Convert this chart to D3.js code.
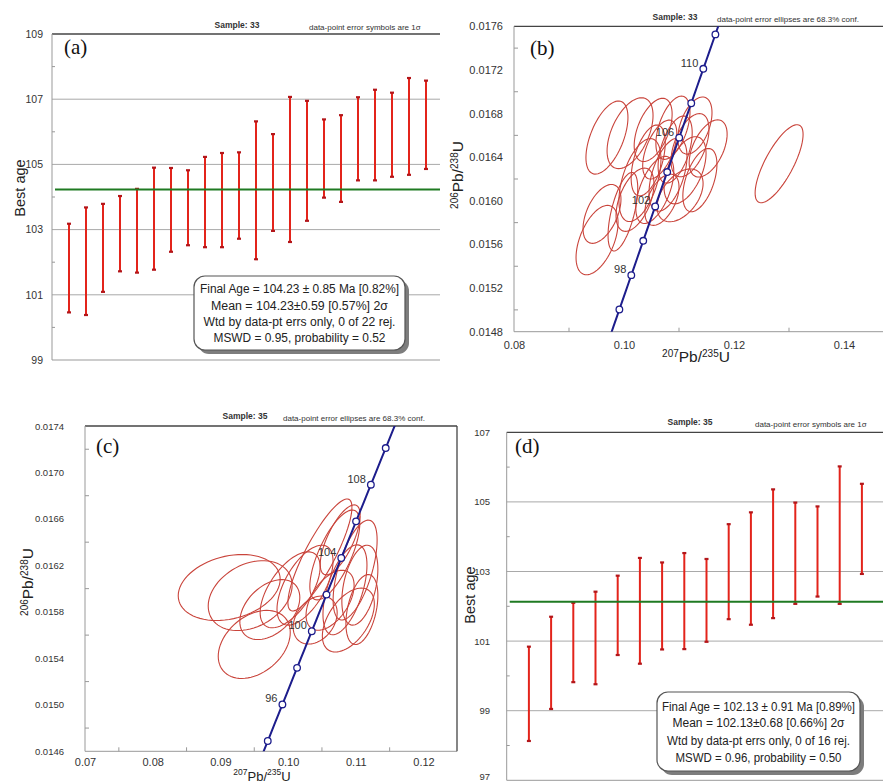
<!DOCTYPE html>
<html>
<head>
<meta charset="utf-8">
<script src="https://cdn.jsdelivr.net/npm/d3@7"></script>
<style>
  body { margin: 0; background: #fff; }
  svg { display: block; font-family: "Liberation Sans", Arial, sans-serif; }
</style>
</head>
<body>
<div id="fig"></div>
<script>
// ---- data ----
// (a) sample 33, 1 sigma age bars (Ma)
const ageA_top = [103.18, 103.68, 103.79, 104.03, 104.25, 104.90, 104.89, 104.82, 105.23, 105.35, 105.37,
                  106.32, 105.93, 107.07, 106.95, 106.38, 106.51, 107.06, 107.29, 107.20, 107.65, 107.57];
const ageA_bot = [100.46, 100.38, 101.09, 101.72, 101.68, 101.77, 102.32, 102.52, 102.46, 102.46, 102.72,
                  102.09, 102.96, 102.62, 103.27, 103.98, 103.85, 104.51, 104.51, 104.62, 104.68, 104.86];
const meanA = 104.23;
const ticksA = [99, 101, 103, 105, 107, 109];
const minorA = [100, 102, 104, 106, 108];
const boxA = ["Final Age = 104.23 \u00b1 0.85 Ma [0.82%]",
              "Mean = 104.23\u00b10.59  [0.57%]  2\u03c3",
              "Wtd by data-pt errs only, 0 of 22 rej.",
              "MSWD = 0.95, probability = 0.52"];

// (d) sample 35
const ageD_top = [100.84, 101.70, 102.10, 102.42, 102.88, 103.39, 103.26, 103.53, 103.36, 104.36, 104.70,
                  105.36, 104.98, 104.87, 106.02, 105.52];
const ageD_bot = [98.13, 99.05, 99.82, 99.76, 100.60, 100.35, 100.76, 100.77, 100.98, 101.63, 101.47,
                  101.66, 102.07, 102.28, 102.07, 102.93];
const meanD = 102.13;
const ticksD = [97, 99, 101, 103, 105, 107];
const minorD = [98, 100, 102, 104, 106];
const boxD = ["Final Age = 102.13 \u00b1 0.91 Ma [0.89%]",
              "Mean = 102.13\u00b10.68  [0.66%]  2\u03c3",
              "Wtd by data-pt errs only, 0 of 16 rej.",
              "MSWD = 0.96, probability = 0.50"];

// (b) sample 33 error ellipses: 207Pb/235U, 206Pb/238U, half extents, correlation
const ellB_x   = [0.1282, 0.0969, 0.1011, 0.1053, 0.1089, 0.1129, 0.1153, 0.0951, 0.0960, 0.0998, 0.1029,
                  0.1056, 0.1080, 0.1111, 0.1138, 0.1044, 0.1069, 0.1102, 0.1020, 0.1093, 0.1120, 0.1065];
const ellB_y   = [0.01634, 0.01658, 0.01662, 0.01665, 0.01667, 0.01669, 0.01648, 0.01564, 0.01588, 0.01590, 0.01619,
                  0.01610, 0.01624, 0.01628, 0.01619, 0.01637, 0.01601, 0.01605, 0.01601, 0.01647, 0.01651, 0.01647];
const ellB_ex  = [0.00436, 0.00382, 0.00418, 0.00345, 0.00310, 0.00310, 0.00345, 0.00382, 0.00345, 0.00270, 0.00382,
                  0.00345, 0.00345, 0.00382, 0.00310, 0.00310, 0.00310, 0.00418, 0.00345, 0.00310, 0.00345, 0.00310];
const ellB_ey  = [0.000358, 0.000335, 0.000325, 0.000290, 0.000290, 0.000262, 0.000262, 0.000318, 0.000270, 0.000360, 0.000380,
                  0.000308, 0.000335, 0.000308, 0.000290, 0.000325, 0.000235, 0.000242, 0.000290, 0.000308, 0.000290, 0.000270];
const ellB_rho = [0.75, 0.55, 0.50, 0.50, 0.50, 0.45, 0.50, 0.50, 0.50, 0.60, 0.50,
                  0.55, 0.50, 0.50, 0.50, 0.50, 0.50, 0.45, 0.50, 0.50, 0.50, 0.55];
const ticksBx = [0.08, 0.10, 0.12, 0.14];
const minorBx = [0.09, 0.11, 0.13, 0.15];
const ticksBy = [0.0148, 0.0152, 0.0156, 0.0160, 0.0164, 0.0168, 0.0172, 0.0176];
const minorBy = [0.0150, 0.0154, 0.0158, 0.0162, 0.0166, 0.0170, 0.0174];
const concB_ages = [94, 96, 98, 100, 102, 104, 106, 108, 110, 112];
const concB_labels = [98, 102, 106, 110];

// (c) sample 35 error ellipses
const ellC_x   = [0.0913, 0.0944, 0.0950, 0.0973, 0.1003, 0.1047, 0.1025, 0.1069, 0.1084, 0.1099, 0.1106,
                  0.1062, 0.1089, 0.1109, 0.1040, 0.1077];
const ellC_y   = [0.01601, 0.01594, 0.01552, 0.01582, 0.01599, 0.01629, 0.01603, 0.01629, 0.01599, 0.01616, 0.01603,
                  0.01590, 0.01573, 0.01582, 0.01573, 0.01642];
const ellC_ex  = [0.00753, 0.00620, 0.00532, 0.00443, 0.00443, 0.00473, 0.00414, 0.00369, 0.00325, 0.00325, 0.00266,
                  0.00355, 0.00384, 0.00236, 0.00325, 0.00295];
const ellC_ey  = [0.000284, 0.000301, 0.000293, 0.000258, 0.000327, 0.000482, 0.000344, 0.000387, 0.000387, 0.000430, 0.000344,
                  0.000258, 0.000275, 0.000301, 0.000207, 0.000301];
const ellC_rho = [0.25, 0.30, 0.35, 0.40, 0.60, 0.85, 0.60, 0.70, 0.55, 0.60, 0.40,
                  0.50, 0.50, 0.40, 0.30, 0.70];
const ticksCx = [0.07, 0.08, 0.09, 0.10, 0.11, 0.12];
const minorCx = [0.075, 0.085, 0.095, 0.105, 0.115];
const ticksCy = [0.0146, 0.0150, 0.0154, 0.0158, 0.0162, 0.0166, 0.0170, 0.0174];
const minorCy = [0.0148, 0.0152, 0.0156, 0.0160, 0.0164, 0.0168, 0.0172];
const concC_ages = [94, 96, 98, 100, 102, 104, 106, 108, 110];
const concC_labels = [96, 100, 104, 108];

// U decay constants (per Ma) for the concordia reference curve
const L238 = 1.55125e-4;
const L235 = 9.8485e-4;

// ---- drawing ----
const W = 883, H = 782;
const RED = "#e3241b", CAP = "#b3161a", GREEN = "#1f7a22", ELL = "#c9443b", NAVY = "#1d1d8c";

const svg = d3.select("#fig").append("svg").attr("width", W).attr("height", H);
svg.append("rect").attr("width", W).attr("height", H).attr("fill", "#fff");
const defs = svg.append("defs");

function clipRect(id, x0, y0, x1, y1) {
  defs.append("clipPath").attr("id", id).append("rect")
    .attr("x", x0).attr("y", y0).attr("width", x1 - x0).attr("height", y1 - y0);
  return `url(#${id})`;
}

function header(p) {
  svg.append("text").attr("x", p.sx).attr("y", p.sy).attr("text-anchor", "middle")
    .attr("font-size", 8.5).attr("font-weight", "bold").attr("fill", "#333").text(p.sample);
  svg.append("text").attr("x", p.nx).attr("y", p.ny)
    .attr("font-size", 8).attr("fill", "#333").text(p.note);
  svg.append("text").attr("x", p.tx).attr("y", p.ty)
    .attr("font-family", "'Liberation Serif', 'Times New Roman', serif")
    .attr("font-size", 21).attr("fill", "#111").text(p.tag);
}

function frame(g, x0, y0, x1, y1, right) {
  g.append("line").attr("x1", x0).attr("x2", x1).attr("y1", y0).attr("y2", y0)
    .attr("stroke", "#444").attr("stroke-width", 1.3);
  g.append("line").attr("x1", x0).attr("x2", x0).attr("y1", y0).attr("y2", y1)
    .attr("stroke", "#999").attr("stroke-width", 1);
  g.append("line").attr("x1", x0).attr("x2", x1).attr("y1", y1).attr("y2", y1)
    .attr("stroke", "#999").attr("stroke-width", 1);
  if (right) {
    g.append("line").attr("x1", x1).attr("x2", x1).attr("y1", y0).attr("y2", y1)
      .attr("stroke", "#444").attr("stroke-width", 1.3);
  }
}

function styleAxisText(axisG, size) {
  axisG.select(".domain").remove();
  axisG.attr("font-family", null).attr("font-size", null);
  axisG.selectAll("text").attr("font-size", size).attr("fill", "#333");
}

function statsBox(g, b, lines) {
  g.append("rect").attr("x", b.x + 4).attr("y", b.y + 4).attr("width", b.w).attr("height", b.h)
    .attr("rx", 11).attr("fill", "#7d7d7d");
  g.append("rect").attr("x", b.x).attr("y", b.y).attr("width", b.w).attr("height", b.h)
    .attr("rx", 11).attr("fill", "#fff").attr("stroke", "#555").attr("stroke-width", 1.2);
  g.selectAll("text.stat").data(lines).join("text")
    .attr("class", "stat")
    .attr("x", b.x + b.w / 2)
    .attr("y", (d, i) => b.base[i])
    .attr("text-anchor", "middle")
    .attr("font-size", 12.5)
    .attr("fill", "#222")
    .attr("textLength", (d, i) => b.len[i])
    .attr("lengthAdjust", "spacingAndGlyphs")
    .text(d => d);
}

function agePanel(p) {
  const x = d3.scaleLinear().domain([0, p.top.length + 1]).range(p.xRange);
  const y = d3.scaleLinear().domain(p.yDomain).range([p.y1, p.y0]);
  const g = svg.append("g");
  const x0 = p.xRange[0], xr = p.xEnd;

  g.selectAll("line.grid").data(p.ticks.slice(1, -1)).join("line")
    .attr("x1", x0).attr("x2", xr).attr("y1", d => y(d)).attr("y2", d => y(d))
    .attr("stroke", "#a9a9a9").attr("stroke-width", 1);
  frame(g, x0, p.y0, xr, p.y1, false);

  g.selectAll("line.minor").data(p.minor).join("line")
    .attr("x1", x0).attr("x2", x0 + 3).attr("y1", d => y(d)).attr("y2", d => y(d))
    .attr("stroke", "#999");

  const ax = g.append("g").attr("transform", `translate(${x0},0)`)
    .call(d3.axisLeft(y).tickValues(p.ticks).tickFormat(d3.format("d")).tickSize(0).tickPadding(p.pad));
  styleAxisText(ax, p.tickSize);
  // keep a label that sits on the bottom edge inside the page
  ax.selectAll("text").filter(d => y(d) > H - 6).attr("dy", "-0.05em");

  const idx = d3.range(p.top.length);
  g.selectAll("line.bar").data(idx).join("line")
    .attr("x1", i => x(i + 1)).attr("x2", i => x(i + 1))
    .attr("y1", i => y(p.top[i])).attr("y2", i => y(p.bot[i]))
    .attr("stroke", RED).attr("stroke-width", 2);
  g.selectAll("line.capT").data(idx).join("line")
    .attr("x1", i => x(i + 1) - 2).attr("x2", i => x(i + 1) + 2)
    .attr("y1", i => y(p.top[i])).attr("y2", i => y(p.top[i]))
    .attr("stroke", CAP).attr("stroke-width", 2.2);
  g.selectAll("line.capB").data(idx).join("line")
    .attr("x1", i => x(i + 1) - 2).attr("x2", i => x(i + 1) + 2)
    .attr("y1", i => y(p.bot[i])).attr("y2", i => y(p.bot[i]))
    .attr("stroke", CAP).attr("stroke-width", 2.2);

  g.append("line").attr("x1", x0 + 3).attr("x2", xr).attr("y1", y(p.mean)).attr("y2", y(p.mean))
    .attr("stroke", GREEN).attr("stroke-width", 2);

  statsBox(g, p.box, p.lines);

  g.append("text")
    .attr("transform", `translate(${p.lab[0]},${p.lab[1]}) rotate(-90)`)
    .attr("text-anchor", "middle").attr("font-size", 14.5).attr("fill", "#222")
    .text("Best age");
}

function ratioLabel(g, tx, ty, rot, sup1, sup2, big, small) {
  const t = g.append("text")
    .attr("transform", `translate(${tx},${ty})` + (rot ? " rotate(-90)" : ""))
    .attr("text-anchor", "middle").attr("fill", "#222");
  t.append("tspan").attr("font-size", small).attr("dy", -5.5).text(sup1);
  t.append("tspan").attr("font-size", big).attr("dy", 5.5).text("Pb/");
  t.append("tspan").attr("font-size", small).attr("dy", -5.5).text(sup2);
  t.append("tspan").attr("font-size", big).attr("dy", 5.5).text("U");
}

function concPanel(p) {
  const x = d3.scaleLinear().domain(p.xDomain).range(p.xRange);
  const y = d3.scaleLinear().domain(p.yDomain).range(p.yRange);
  const g = svg.append("g");
  const x0 = p.xRange[0], y1 = p.yRange[0], y0 = p.yRange[1], xr = p.xEnd;
  const clip = clipRect(p.id, x0, y0, xr, y1);

  frame(g, x0, y0, xr, y1, p.right);
  g.selectAll("line.my").data(p.minorY).join("line")
    .attr("x1", x0).attr("x2", x0 + 4).attr("y1", d => y(d)).attr("y2", d => y(d)).attr("stroke", "#999");
  g.selectAll("line.mx").data(p.minorX).join("line")
    .attr("x1", d => x(d)).attr("x2", d => x(d)).attr("y1", y1).attr("y2", y1 - 4).attr("stroke", "#999");

  const ay = g.append("g").attr("transform", `translate(${x0},0)`)
    .call(d3.axisLeft(y).tickValues(p.ticksY).tickFormat(d3.format(".4f")).tickSize(0).tickPadding(p.padY));
  styleAxisText(ay, p.sizeY);
  const axx = g.append("g").attr("transform", `translate(0,${y1})`)
    .call(d3.axisBottom(x).tickValues(p.ticksX).tickFormat(d3.format(".2f")).tickSize(0).tickPadding(p.padX));
  styleAxisText(axx, p.sizeX);

  const inner = g.append("g").attr("clip-path", clip);
  const th = d3.range(0, 73).map(k => k / 72 * 2 * Math.PI);
  const ell = p.ell;
  inner.selectAll("path.ell").data(d3.range(ell.x.length)).join("path")
    .attr("d", i => {
      const r = ell.rho[i], s = Math.sqrt(1 - r * r);
      return d3.line()(th.map(t => [
        x(ell.x[i] + ell.ex[i] * Math.cos(t)),
        y(ell.y[i] + ell.ey[i] * (r * Math.cos(t) + s * Math.sin(t)))
      ]));
    })
    .attr("fill", "none").attr("stroke", ELL).attr("stroke-width", 1.1);

  const ages = d3.range(p.tMin, p.tMax + 0.01, 0.5);
  const conc = t => [x(Math.exp(L235 * t) - 1), y(Math.exp(L238 * t) - 1)];
  inner.append("path").attr("d", d3.line()(ages.map(conc)))
    .attr("fill", "none").attr("stroke", NAVY).attr("stroke-width", 2);
  inner.selectAll("text.age").data(p.labels).join("text")
    .attr("x", t => conc(t)[0] - 5).attr("y", t => conc(t)[1] - 2)
    .attr("text-anchor", "end").attr("font-size", 11).attr("fill", "#333").text(t => t);
  inner.selectAll("circle.age").data(p.ages).join("circle")
    .attr("cx", t => conc(t)[0]).attr("cy", t => conc(t)[1]).attr("r", 3.3)
    .attr("fill", "#fff").attr("stroke", NAVY).attr("stroke-width", 1.3);

  ratioLabel(g, p.yl[0], p.yl[1], true, "206", "238", 15.5, 10);
  ratioLabel(g, p.xl[0], p.xl[1], false, "207", "235", p.xlBig, p.xlSmall);
}

// (a)
agePanel({
  top: ageA_top, bot: ageA_bot, mean: meanA, ticks: ticksA, minor: minorA,
  xRange: [52, 443], xEnd: 440, yDomain: [99, 109], y0: 34, y1: 360,
  pad: 9, tickSize: 10.5, lab: [25, 188],
  box: { x: 194, y: 276, w: 211, h: 74, base: [293, 310, 326, 342], len: [199, 177, 192, 172] },
  lines: boxA
});
header({ sample: "Sample: 33", sx: 237, sy: 28, note: "data-point error symbols are 1\u03c3", nx: 309, ny: 30,
         tag: "(a)", tx: 64, ty: 54 });

// (b)
concPanel({
  id: "clipB", xDomain: [0.08, 0.16], xRange: [514, 954], xEnd: 883, right: false,
  yDomain: [0.0148, 0.0176], yRange: [331.7, 26.3],
  ticksX: ticksBx, minorX: minorBx, ticksY: ticksBy, minorY: minorBy,
  padY: 11, sizeY: 11, padX: 9.5, sizeX: 11,
  ell: { x: ellB_x, y: ellB_y, ex: ellB_ex, ey: ellB_ey, rho: ellB_rho },
  tMin: 90, tMax: 116, ages: concB_ages, labels: concB_labels,
  yl: [463, 175], xl: [696, 362], xlBig: 15.5, xlSmall: 10
});
header({ sample: "Sample: 33", sx: 675, sy: 20, note: "data-point error ellipses are 68.3% conf.", nx: 717, ny: 22,
         tag: "(b)", tx: 530, ty: 55 });

// (c)
concPanel({
  id: "clipC", xDomain: [0.07, 0.125], xRange: [85, 457.35], xEnd: 457, right: true,
  yDomain: [0.0146, 0.0174], yRange: [751.3, 426],
  ticksX: ticksCx, minorX: minorCx, ticksY: ticksCy, minorY: minorCy,
  padY: 21, sizeY: 9.5, padX: 7, sizeX: 11,
  ell: { x: ellC_x, y: ellC_y, ex: ellC_ex, ey: ellC_ey, rho: ellC_rho },
  tMin: 90, tMax: 116, ages: concC_ages, labels: concC_labels,
  yl: [33, 582], xl: [262, 780.5], xlBig: 13, xlSmall: 8.5
});
header({ sample: "Sample: 35", sx: 245, sy: 419, note: "data-point error ellipses are 68.3% conf.", nx: 283, ny: 421,
         tag: "(c)", tx: 96, ty: 453 });

// (d)
agePanel({
  top: ageD_top, bot: ageD_bot, mean: meanD, ticks: ticksD, minor: minorD,
  xRange: [506.7, 884.1], xEnd: 883, yDomain: [97, 107], y0: 432.3, y1: 780.3,
  pad: 16.7, tickSize: 9.5, lab: [475, 595],
  box: { x: 657, y: 692, w: 203, h: 79, base: [710.5, 727, 745, 762], len: [193, 172, 183, 166] },
  lines: boxD
});
header({ sample: "Sample: 35", sx: 690, sy: 425, note: "data-point error symbols are 1\u03c3", nx: 755, ny: 427,
         tag: "(d)", tx: 515, ty: 453 });
</script>
</body>
</html>
